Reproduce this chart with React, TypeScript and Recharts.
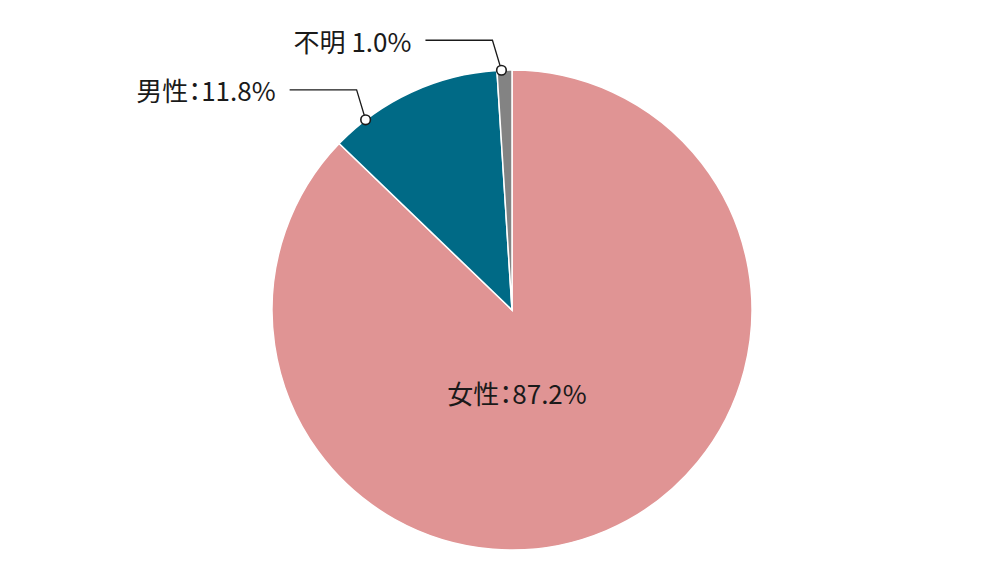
import { PieChart, Pie, Cell } from 'recharts';

const categories = ['女性', '男性', '不明'];
const shares = [87.2, 11.8, 1.0];
const labelTexts = ['女性：87.2%', '男性：11.8%', '不明 1.0%'];
const colors = ['#E09494', '#006A86', '#838383'];

const data = categories.map((name, i) => ({ name, value: shares[i], text: labelTexts[i] }));

const RAD = Math.PI / 180;
const FONT = '"Noto Sans CJK JP", "Noto Sans", sans-serif';
const textStyle = { fontFeatureSettings: '"palt"' };

// where along each outside slice the leader dot sits (0 = start, 1 = end)
const dotFraction = [0.5, 0.2, 0.3];

function renderLabel(props: any) {
  const { cx, cy, outerRadius, startAngle, endAngle, index, payload } = props;
  const text = payload?.text ?? data[index].text;
  if (index === 0) {
    return (
      <text
        x={cx + 5}
        y={cy + 82}
        textAnchor="middle"
        dominantBaseline="central"
        fontSize={26}
        fontFamily={FONT}
        fill="#1a1a1a"
        style={textStyle}
      >
        {text}
      </text>
    );
  }
  const a = startAngle + (endAngle - startAngle) * dotFraction[index];
  const dx = cx + outerRadius * Math.cos(-a * RAD);
  const dy = cy + outerRadius * Math.sin(-a * RAD);
  const ex = dx - 9;
  const ey = dy - 30;
  const lx = ex - 67;
  return (
    <g>
      <polyline points={`${dx},${dy} ${ex},${ey} ${lx},${ey}`} fill="none" stroke="#1a1a1a" strokeWidth={1.3} />
      <circle cx={dx} cy={dy} r={4.8} fill="#fff" stroke="#1a1a1a" strokeWidth={1.6} />
      <text
        x={lx - 14}
        y={ey}
        textAnchor="end"
        dominantBaseline="central"
        fontSize={26}
        fontFamily={FONT}
        fill="#1a1a1a"
        style={textStyle}
      >
        {text}
      </text>
    </g>
  );
}

export default function App() {
  return (
    <div style={{ position: 'absolute', left: 0, top: 0, width: 1000, height: 565, background: '#fff' }}>
      <PieChart width={1000} height={565}>
        <Pie
          data={data}
          dataKey="value"
          nameKey="name"
          cx={507}
          cy={305}
          outerRadius={240}
          startAngle={90}
          endAngle={-270}
          stroke="#fff"
          strokeWidth={1.5}
          label={renderLabel}
          labelLine={false}
          isAnimationActive={false}
        >
          {data.map((d, i) => (
            <Cell key={d.name} fill={colors[i]} />
          ))}
        </Pie>
      </PieChart>
    </div>
  );
}
